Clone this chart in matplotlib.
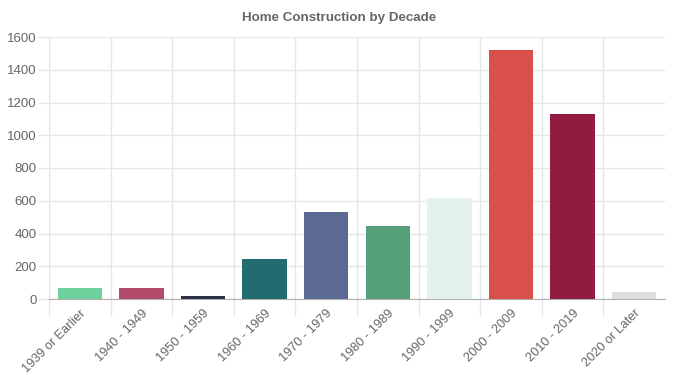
import matplotlib
matplotlib.use("Agg")
import matplotlib.pyplot as plt
import numpy as np

categories = ["1939 or Earlier", "1940 - 1949", "1950 - 1959", "1960 - 1969", "1970 - 1979",
              "1980 - 1989", "1990 - 1999", "2000 - 2009", "2010 - 2019", "2020 or Later"]
values = [70, 67, 18, 246, 533, 444, 617, 1520, 1131, 45]
colors = ["#6fcf9d", "#b34b6b", "#2b3142", "#226b6f", "#5a6a93",
          "#55a078", "#e3f2ea", "#d9504b", "#921c40", "#dedede"]
title = "Home Construction by Decade"
yticks = [0, 200, 400, 600, 800, 1000, 1200, 1400, 1600]

plt.rcParams['font.family'] = ['Liberation Sans', 'DejaVu Sans']
fig = plt.figure(figsize=(6.78, 3.75), dpi=100)
ax = fig.add_axes([49/678, 1-299/375, (665-49)/678, (299-37)/375])

grid_c = "#e6e6e6"
text_c = "#666666"
x = np.arange(len(categories))
ax.bar(x, values, width=0.72, color=colors, zorder=3)

ax.set_xlim(-0.5, len(categories) - 0.5)
ax.set_ylim(0, 1600)
ax.set_yticks(yticks)
ax.set_yticklabels([str(v) for v in yticks])
ax.set_xticks(x)
ax.set_xticklabels(categories, rotation=45, ha="right", rotation_mode="anchor")
ax.set_xticks(np.arange(-0.5, len(categories) - 1, 1.0), minor=True)

ax.tick_params(axis="x", which="major", length=0, pad=6, labelsize=9.2, labelcolor=text_c)
ax.tick_params(axis="x", which="minor", length=12, color=grid_c, width=1)
ax.tick_params(axis="y", length=8, color=grid_c, width=1, labelsize=9.5, labelcolor=text_c, pad=1)

ax.grid(axis="y", color=grid_c, linewidth=1, zorder=0)
ax.grid(axis="x", which="minor", color=grid_c, linewidth=1, zorder=0)
ax.set_axisbelow(True)

for s in ["top", "right"]:
    ax.spines[s].set_visible(False)
ax.spines["left"].set_color(grid_c)
ax.spines["bottom"].set_color("#b0b0b0")

fig.text(0.5, 1-18/375, title, ha="center", va="center", fontsize=9.6, fontweight="bold", color=text_c)

fig.savefig("out.png", dpi=100, facecolor="white")
